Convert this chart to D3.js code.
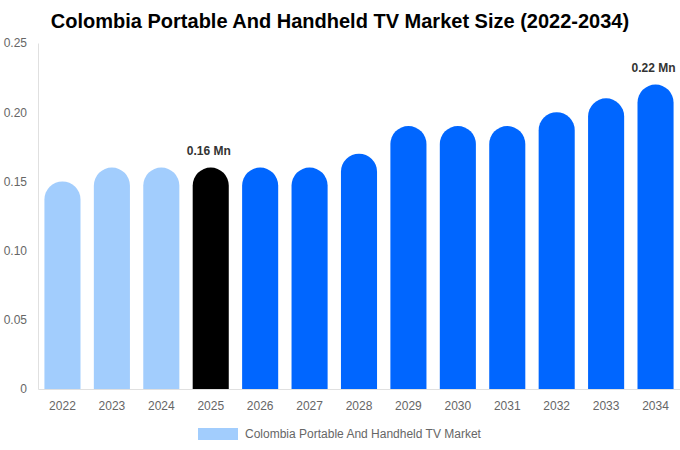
<!DOCTYPE html>
<html>
<head>
<meta charset="utf-8">
<script src="https://cdn.jsdelivr.net/npm/d3@7"></script>
<style>
  body { margin: 0; background: #fff; }
  text { font-family: "Liberation Sans", Arial, sans-serif; }
</style>
</head>
<body>
<svg width="680" height="450"></svg>
<script>
// Chart data
var years = ["2022", "2023", "2024", "2025", "2026", "2027", "2028", "2029", "2030", "2031", "2032", "2033", "2034"];
var values = [0.15, 0.16, 0.16, 0.16, 0.16, 0.16, 0.17, 0.19, 0.19, 0.19, 0.20, 0.21, 0.22];
var yTicks = [0, 0.05, 0.10, 0.15, 0.20, 0.25];
var yTickLabels = ["0", "0.05", "0.10", "0.15", "0.20", "0.25"];
var labelledYears = ["2025", "2034"];
var seriesName = "Colombia Portable And Handheld TV Market";

var svg = d3.select('svg');

// layout
var plot = {l: 38, r: 680, t: 43, b: 389};

function barColor(year) {
    if (+year < 2025) return "#a2cdfd";
    if (+year == 2025) return "#000000";
    return "#0066ff";
}

// Title
svg.append("text")
    .attr("x", 340)
    .attr("y", 28)
    .attr("text-anchor", "middle")
    .style("font-size", "20px")
    .style("font-weight", "bold")
    .attr("fill", "#000")
    .text("Colombia Portable And Handheld TV Market Size (2022-2034)");

// Scales
var x = d3.scaleBand()
    .domain(years)
    .range([plot.l, plot.r])
    .paddingInner(0.27)
    .paddingOuter(0.13);

var y = d3.scaleLinear()
    .domain([0, 0.25])
    .range([plot.b, plot.t]);

// Y axis
var yAxis = svg.append("g")
    .attr("transform", "translate(" + plot.l + ",0)")
    .call(d3.axisLeft(y).tickValues(yTicks).tickSize(0).tickPadding(11)
        .tickFormat(function(d, i) { return yTickLabels[i]; }));
yAxis.select(".domain").attr("stroke", "#e0e0e0");
yAxis.selectAll("text").style("font-size", "12px").attr("fill", "#666");

// Bars with rounded tops
var barData = years.map(function(yr, i) { return {year: yr, value: values[i]}; });

function barPath(d) {
    var x0 = x(d.year), w = x.bandwidth(), r = w / 2;
    var yTop = y(d.value), yBot = y(0);
    return "M" + x0 + "," + yBot +
        "V" + (yTop + r) +
        "A" + r + "," + r + " 0 0 1 " + (x0 + w) + "," + (yTop + r) +
        "V" + yBot + "Z";
}

svg.append("g")
    .selectAll("path")
    .data(barData)
    .enter()
    .append("path")
    .attr("d", barPath)
    .attr("fill", function(d) { return barColor(d.year); });

// X axis
var xAxis = svg.append("g")
    .attr("transform", "translate(0," + plot.b + ")")
    .call(d3.axisBottom(x).tickSize(0).tickPadding(12));
xAxis.select(".domain").attr("stroke", "#e0e0e0");
xAxis.selectAll("text").style("font-size", "12px").attr("fill", "#666");

// Value labels
svg.append("g")
    .selectAll("text")
    .data(barData.filter(function(d) { return labelledYears.indexOf(d.year) >= 0; }))
    .enter()
    .append("text")
    .attr("x", function(d) { return x(d.year) + x.bandwidth() / 2 - 2; })
    .attr("y", function(d) { return y(d.value) - 13; })
    .attr("text-anchor", "middle")
    .style("font-size", "12px")
    .style("font-weight", "bold")
    .attr("fill", "#333")
    .text(function(d) { return d.value.toFixed(2) + " Mn"; });

// Legend
var legendG = svg.append("g");
legendG.append("rect")
    .attr("x", 198).attr("y", 428)
    .attr("width", 40).attr("height", 12)
    .attr("fill", "#a2cdfd");
legendG.append("text")
    .attr("x", 245).attr("y", 437.5)
    .style("font-size", "12px")
    .attr("fill", "#666")
    .text(seriesName);
</script>
</body>
</html>
